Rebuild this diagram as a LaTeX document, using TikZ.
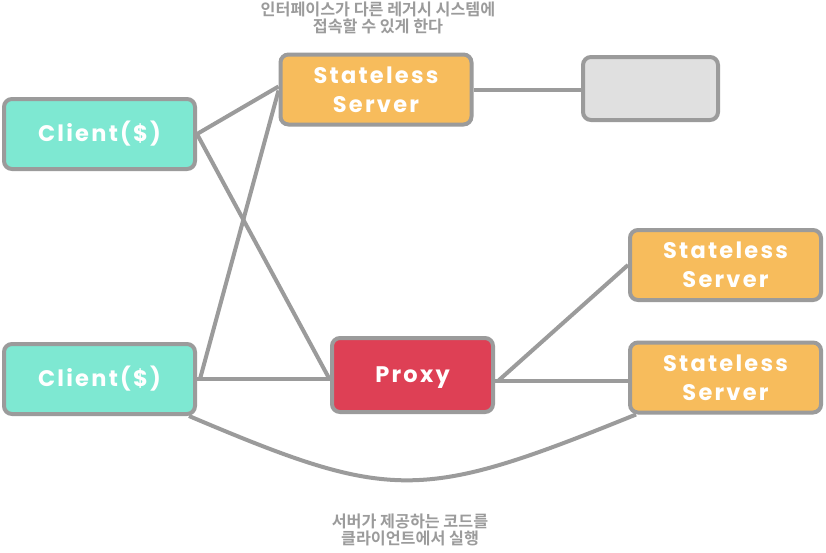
\documentclass[tikz,border=0pt]{standalone}
\usepackage{fontspec}
\setmainfont{Poppins}
\newfontfamily\nodefont[LetterSpace=10]{Poppins Bold}
\newfontfamily\cjk{Noto Sans CJK KR Bold}
\usetikzlibrary{backgrounds,calc}
\definecolor{bordergray}{HTML}{9B9B9B}
\definecolor{clientc}{HTML}{7EE8D2}
\definecolor{serverc}{HTML}{F7BC5C}
\definecolor{proxyc}{HTML}{DE4055}
\definecolor{legacyc}{HTML}{E0E0E0}
\tikzset{
  box/.style={draw=bordergray, line width=4pt, rounded corners=8pt, inner sep=0pt,
    text=white, font=\nodefont\fontsize{22.5}{29}\selectfont, align=center},
  clientbox/.style={box, fill=clientc, minimum width=191pt, minimum height=70pt},
  serverbox/.style={box, fill=serverc, minimum width=191pt, minimum height=70pt},
  proxybox/.style={box, fill=proxyc, minimum width=161pt, minimum height=74pt, text depth=0pt},
  legacybox/.style={box, fill=legacyc, minimum width=135pt, minimum height=63pt},
  link/.style={draw=bordergray, line width=4pt},
  note/.style={text=bordergray, font=\cjk\fontsize{16.2}{17.5}\selectfont, align=center}
}
\begin{document}
\begin{tikzpicture}[x=1pt,y=-1pt]
\useasboundingbox (0,0) rectangle (826,552);
\node[clientbox] (c1) at (99.5,134) {Client(\$)};
\node[clientbox] (c2) at (99.5,379) {Client(\$)};
\node[serverbox] (s1) at (376,89.5) {Stateless\\Server};
\node[legacybox] (lg) at (650.5,88.5) {};
\node[proxybox] (px) at (412.5,375) {Proxy};
\node[serverbox] (s2) at (725.5,265) {Stateless\\Server};
\node[serverbox] (s3) at (725.5,377.5) {Stateless\\Server};
\node[note] (n1) at (378,18) {인터페이스가 다른 레거시 시스템에\\접속할 수 있게 한다};
\node[note] (n2) at (410,530) {서버가 제공하는 코드를\\클라이언트에서 실행};
\begin{scope}[on background layer]
\fill[white] (0,0) rectangle (826,552);
\draw[link] (c1.east) -- ($(s1.west)+(0,-3)$);
\draw[link] (c1.east) -- ($(px.west)+(0,5)$);
\draw[link] ($(c2.east)+(3,0)$) -- ($(s1.west)+(0,1)$);
\draw[link] (c2.east) -- (c2.east -| px.west);
\draw[link] (s1.east) -- (s1.east -| lg.west);
\draw[link] ($(px.east)+(3,6)$) -- (s2.west);
\draw[link] ($(px.east)+(0,6)$) -- ($(s3.west)+(0,3.5)$);
\draw[link] ($(c2.south east)+(-8,0)$) .. controls (392,502) and (420,502) .. ($(s3.south west)+(8,0)$);
\end{scope}
\end{tikzpicture}
\end{document}
